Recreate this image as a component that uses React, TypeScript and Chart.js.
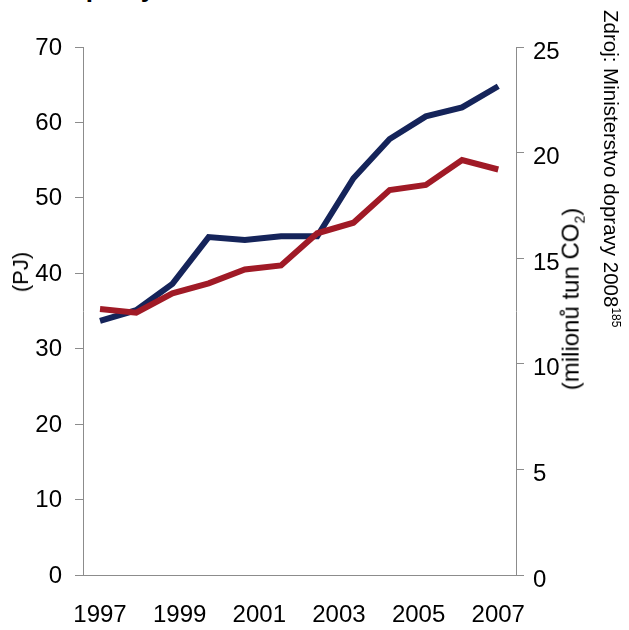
import React, { useEffect, useRef } from 'react';
import { Chart, registerables } from 'chart.js';

Chart.register(...registerables);

// x positions of the 12 plotted points (index along the axis)
const POINT_INDEX = [0, 1, 2, 3, 4, 5, 6, 7, 8, 9, 10, 11];
// Energy consumption (PJ), left axis
const ENERGY_PJ = [33.7, 35.1, 38.6, 44.8, 44.4, 44.9, 44.9, 52.6, 57.8, 60.8, 62.0, 64.8];
// CO2 emissions (million tonnes), right axis
const CO2_MT = [12.59, 12.42, 13.34, 13.81, 14.47, 14.66, 16.18, 16.68, 18.23, 18.47, 19.65, 19.2];
// x axis tick labels
const X_TICK_LABELS = ['1997', '1999', '2001', '2003', '2005', '2007'];

const FONT = "'Liberation Sans', Arial, sans-serif";
const AXIS_GRAY = '#8c8c8c';

export default function App() {
  const canvasRef = useRef<HTMLCanvasElement | null>(null);

  useEffect(() => {
    const canvas = canvasRef.current;
    if (!canvas) return;
    Chart.defaults.font.family = FONT;
    const chart = new Chart(canvas, {
      type: 'line',
      data: {
        datasets: [
          {
            label: 'CO2',
            data: POINT_INDEX.map((x, i) => ({ x, y: CO2_MT[i] })),
            borderColor: '#A01A26',
            backgroundColor: '#A01A26',
            borderWidth: 6,
            pointRadius: 0,
            tension: 0,
            yAxisID: 'y1',
            order: 0,
          },
          {
            label: 'PJ',
            data: POINT_INDEX.map((x, i) => ({ x, y: ENERGY_PJ[i] })),
            borderColor: '#15245A',
            backgroundColor: '#15245A',
            borderWidth: 6,
            pointRadius: 0,
            tension: 0,
            yAxisID: 'y',
            order: 1,
          },
        ],
      },
      options: {
        animation: false,
        responsive: false,
        devicePixelRatio: 1,
        layout: { padding: { top: 47, left: 0, right: 0, bottom: 0 } },
        plugins: {
          legend: { display: false },
          title: { display: false },
          tooltip: { enabled: false },
        },
        scales: {
          x: {
            type: 'linear',
            min: -0.47,
            max: 11.49,
            grid: { display: false, drawTicks: false },
            border: { display: true, color: AXIS_GRAY, width: 1 },
            ticks: {
              font: { size: 24, family: FONT },
              color: '#000',
              padding: 26,
              maxRotation: 0,
              autoSkip: false,
              callback: (_v: any, i: number) => X_TICK_LABELS[i],
            },
            afterBuildTicks: (s: any) => {
              const n = POINT_INDEX.length - 1;
              s.ticks = X_TICK_LABELS.map((_, i) => ({ value: (i * n) / (X_TICK_LABELS.length - 1) }));
            },
            afterFit: (s: any) => {
              s.height = 55;
            },
          },
          y: {
            position: 'left',
            min: 0,
            max: 70,
            ticks: {
              stepSize: 10,
              font: { size: 24, family: FONT },
              color: '#000',
              padding: 13,
              labelOffset: 1,
            },
            grid: { drawOnChartArea: false, drawTicks: true, tickLength: 8, color: AXIS_GRAY },
            border: { display: true, color: AXIS_GRAY, width: 1 },
            afterFit: (s: any) => {
              s.width = 83;
            },
          },
          y1: {
            position: 'right',
            min: 0,
            max: 25,
            ticks: {
              stepSize: 5,
              font: { size: 24, family: FONT },
              color: '#000',
              padding: 9,
              labelOffset: 5,
            },
            grid: { drawOnChartArea: false, drawTicks: true, tickLength: 8, color: AXIS_GRAY },
            border: { display: true, color: AXIS_GRAY, width: 1 },
            afterFit: (s: any) => {
              s.width = 113;
            },
          },
        },
      },
    });
    return () => chart.destroy();
  }, []);

  return (
    <div
      style={{
        position: 'absolute',
        left: 0,
        top: 0,
        width: 629,
        height: 630,
        overflow: 'hidden',
        background: '#fff',
        fontFamily: FONT,
      }}
    >
      <div
        style={{
          position: 'absolute',
          left: 54,
          top: -25,
          fontSize: 26,
          lineHeight: '26px',
          fontWeight: 'bold',
          color: '#000',
          whiteSpace: 'nowrap',
        }}
      >
        dopravy
      </div>
      <canvas ref={canvasRef} width={629} height={630} style={{ position: 'absolute', left: 0, top: 0, width: 629, height: 630 }} />
      <div
        style={{
          position: 'absolute',
          left: 21,
          top: 272,
          transform: 'translate(-50%, -50%) rotate(-90deg)',
          fontSize: 22,
          lineHeight: '24px',
          color: '#000',
          whiteSpace: 'nowrap',
        }}
      >
        (PJ)
      </div>
      <div
        style={{
          position: 'absolute',
          left: 575,
          top: 299,
          transform: 'translate(-50%, -50%) rotate(-90deg)',
          fontSize: 24,
          lineHeight: '26px',
          color: '#000',
          whiteSpace: 'nowrap',
        }}
      >
        (milionů tun CO<sub style={{ fontSize: 14 }}>2</sub>)
      </div>
      <div
        style={{
          position: 'absolute',
          left: 627,
          top: 10,
          transformOrigin: '0 0',
          transform: 'rotate(90deg)',
          fontSize: 20.5,
          lineHeight: '23px',
          color: '#000',
          whiteSpace: 'nowrap',
        }}
      >
        Zdroj: Ministerstvo dopravy 2008<sup style={{ fontSize: 12 }}>185</sup>
      </div>
    </div>
  );
}
